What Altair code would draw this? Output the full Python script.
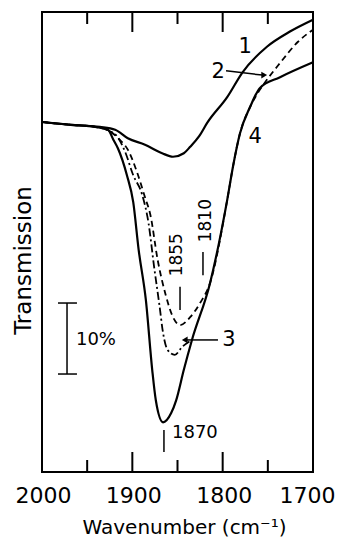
import altair as alt
import pandas as pd

# ---- spectra (wavenumber cm^-1, transmission %) ----
c1_wn = [2000, 1968, 1936, 1919, 1905, 1886, 1867, 1855, 1843, 1836, 1826, 1817, 1795, 1778, 1751, 1726, 1700]
c1_t = [49.3, 48.9, 48.6, 48.2, 47.0, 46.1, 44.9, 44.4, 44.9, 45.8, 47.3, 49.2, 52.8, 56.3, 59.9, 62.0, 63.7]

c4_wn = [2000, 1968, 1941, 1927, 1921, 1916, 1906, 1899, 1893, 1885, 1878, 1874, 1866, 1857, 1851.5, 1843, 1834,
         1814, 1795, 1788.6, 1780.8, 1769.7, 1758.7, 1736.5, 1700]
c4_t = [49.3, 48.9, 48.6, 48.2, 46.8, 45.6, 41.8, 38.0, 31.3, 24.2, 14.4, 10.1, 7.0, 8.3, 10.1, 14.4, 18.6,
        26.6, 38.3, 43.0, 47.7, 51.4, 54.1, 55.6, 57.7]

c3_wn = [2000, 1968, 1941, 1925, 1917, 1908, 1899, 1889, 1882, 1876, 1870, 1866, 1861, 1853, 1845, 1834]
c3_t = [49.3, 48.9, 48.6, 48.0, 47.3, 45.1, 41.8, 39.0, 35.0, 29.0, 23.5, 19.6, 17.2, 16.5, 17.6, 18.6]

c2_wn = [2000, 1968, 1941, 1925, 1914, 1905, 1895, 1886, 1880, 1872, 1863, 1856, 1847, 1836, 1825, 1814,
         1795, 1788.6, 1780.8, 1769.7, 1763, 1753, 1736.5, 1716.6, 1700]
c2_t = [49.3, 48.9, 48.6, 48.0, 46.8, 45.4, 42.3, 38.7, 36.2, 29.9, 24.9, 22.1, 20.7, 21.8, 23.8, 26.6,
        38.3, 43.0, 47.7, 51.4, 53.0, 54.9, 57.6, 60.6, 62.3]

# axis values
x_labels = [2000, 1900, 1800, 1700]
tick_wn = [1950, 1900, 1850, 1800, 1750]
tick_major = [False, True, False, True, False]

# curve labels
label_text = ["1", "2", "3", "4"]
label_wn = [1775, 1805, 1793, 1764]
label_t = [59.9, 56.3, 18.6, 47.2]

# peak annotations
peak_text = ["1855", "1810"]
peak_wn = [1850.6, 1818.4]
peak_t = [30.6, 35.4]
peak_tick_wn = [1847.2, 1821.8]
peak_tick_t1 = [26.1, 31.0]
peak_tick_t2 = [22.8, 27.7]

min_text = ["1870"]
min_wn = [1856.1]
min_t = [5.5]
min_tick_wn = [1865]
min_tick_t1 = [5.9]
min_tick_t2 = [2.8]

Y_TOP = 64.79
FONT = "DejaVu Sans"

rows = []
for name, wn, t in [("1", c1_wn, c1_t), ("2", c2_wn, c2_t), ("3", c3_wn, c3_t), ("4", c4_wn, c4_t)]:
    for i, (a, b) in enumerate(zip(wn, t)):
        rows.append({"curve": name, "wn": a, "t": b, "i": i})
curves = pd.DataFrame(rows)

xs = alt.Scale(domain=[1700, 2000], reverse=True, nice=False, zero=False)
ys = alt.Scale(domain=[0, Y_TOP], nice=False, zero=False)

X = alt.X("wn:Q", scale=xs, axis=alt.Axis(
    values=x_labels, format="d", ticks=False, tickSize=0, domain=False, grid=False,
    labelFont=FONT, labelFontSize=22, labelColor="black", labelPadding=30,
    labelBaseline="alphabetic", labelFlush=False, labelOverlap=False,
    labelOffset={"condition": {"test": "datum.value == 1700", "value": -6}, "value": 1},
    title="Wavenumber (cm⁻¹)", titleFont=FONT, titleFontSize=20, titleFontWeight="normal",
    titleColor="black", titleY=61, titleX=142, titleAlign="center", titleBaseline="alphabetic"))
Y = alt.Y("t:Q", scale=ys, axis=alt.Axis(
    labels=False, ticks=False, domain=False, grid=False,
    title="Transmission", titleFont=FONT, titleFontSize=23, titleFontWeight="normal",
    titleColor="black", titleX=-12, titleY=248, titleAlign="center",
    titleBaseline="alphabetic", titleAngle=270))

base = alt.Chart(curves)
solid = base.transform_filter("datum.curve == '1' || datum.curve == '4'").mark_line(
    color="black", strokeWidth=2.2, interpolate="monotone").encode(x=X, y=Y, detail="curve:N", order="i:Q")
dashed = base.transform_filter("datum.curve == '2'").mark_line(
    color="black", strokeWidth=1.8, strokeDash=[6, 4], interpolate="monotone").encode(
    x="wn:Q", y="t:Q", order="i:Q")
dashdot = base.transform_filter("datum.curve == '3'").mark_line(
    color="black", strokeWidth=1.8, strokeDash=[8, 3, 2, 3], interpolate="monotone").encode(
    x="wn:Q", y="t:Q", order="i:Q")

# inward frame ticks
tk = pd.DataFrame({"wn": tick_wn, "major": tick_major})
tick_len_expr = "datum.major ? 2.82 : 1.69"
bottom_ticks = alt.Chart(tk).transform_calculate(
    y1="0", y2=tick_len_expr).mark_rule(color="black", strokeWidth=2).encode(
    x="wn:Q", y="y1:Q", y2="y2:Q")
top_ticks = alt.Chart(tk).transform_calculate(
    y1=str(Y_TOP), y2=f"{Y_TOP} - ({tick_len_expr})").mark_rule(color="black", strokeWidth=2).encode(
    x="wn:Q", y="y1:Q", y2="y2:Q")

# curve labels
lab = pd.DataFrame({"text": label_text, "wn": label_wn, "t": label_t})
labels = alt.Chart(lab).mark_text(font=FONT, fontSize=21, color="black", align="center",
                                  baseline="middle").encode(x="wn:Q", y="t:Q", text="text:N")

# arrows for labels 2 and 3
arr_lines = pd.DataFrame({"wn": [1796.3, 1805.2], "wn2": [1756.0, 1840.0], "t": [56.5, 18.6], "t2": [55.9, 18.6]})
arrows = alt.Chart(arr_lines).mark_rule(color="black", strokeWidth=1.5).encode(
    x="wn:Q", x2="wn2:Q", y="t:Q", y2="t2:Q")
head_r = alt.Chart(pd.DataFrame({"wn": [1754.0], "t": [55.9]})).mark_point(
    shape="triangle-right", filled=True, color="black", size=45, opacity=1).encode(x="wn:Q", y="t:Q")
head_l = alt.Chart(pd.DataFrame({"wn": [1842.0], "t": [18.6]})).mark_point(
    shape="triangle-left", filled=True, color="black", size=45, opacity=1).encode(x="wn:Q", y="t:Q")

# peak labels (rotated)
pk = pd.DataFrame({"text": peak_text, "wn": peak_wn, "t": peak_t})
peaks = alt.Chart(pk).mark_text(font=FONT, fontSize=17, color="black", angle=270, align="center",
                                baseline="middle").encode(x="wn:Q", y="t:Q", text="text:N")
pkt = pd.DataFrame({"wn": peak_tick_wn + min_tick_wn, "t1": peak_tick_t1 + min_tick_t1,
                    "t2": peak_tick_t2 + min_tick_t2})
peak_ticks = alt.Chart(pkt).mark_rule(color="black", strokeWidth=1.5).encode(x="wn:Q", y="t1:Q", y2="t2:Q")
mn = pd.DataFrame({"text": min_text, "wn": min_wn, "t": min_t})
min_label = alt.Chart(mn).mark_text(font=FONT, fontSize=18, color="black", align="left",
                                    baseline="middle").encode(x="wn:Q", y="t:Q", text="text:N")

# 10% scale bar
bar = alt.Chart(pd.DataFrame({"wn": [1972.3], "t1": [13.8], "t2": [23.8]})).mark_rule(
    color="black", strokeWidth=1.5).encode(x="wn:Q", y="t1:Q", y2="t2:Q")
caps = alt.Chart(pd.DataFrame({"wn": [1982.3, 1982.3], "wn2": [1961.3, 1961.3], "t": [13.8, 23.8]})).mark_rule(
    color="black", strokeWidth=1.5).encode(x="wn:Q", x2="wn2:Q", y="t:Q")
bar_text = alt.Chart(pd.DataFrame({"text": ["10%"], "wn": [1962.4], "t": [18.6]})).mark_text(
    font=FONT, fontSize=18, color="black", align="left", baseline="middle").encode(
    x="wn:Q", y="t:Q", text="text:N")

chart = alt.layer(
    solid, dashed, dashdot, bottom_ticks, top_ticks, labels, arrows, head_r, head_l,
    peaks, peak_ticks, min_label, bar, caps, bar_text
).properties(
    width=271, height=460,
    background="white",
    autosize=alt.AutoSizeParams(type="none"),
    padding={"left": 34, "top": 4, "right": 23, "bottom": 66},
).configure_view(stroke="black", strokeWidth=2)

chart.save("out.html", embed_options={"renderer": "svg", "actions": False})
